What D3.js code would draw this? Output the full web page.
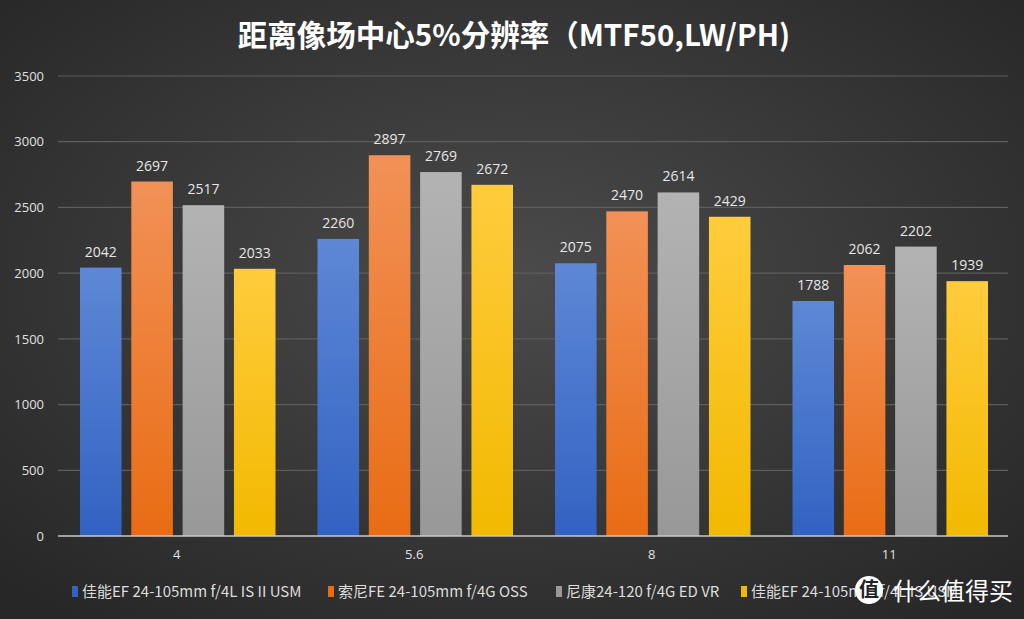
<!DOCTYPE html>
<html><head><meta charset="utf-8">
<script src="https://cdn.jsdelivr.net/npm/d3@7"></script>
<style>html,body{margin:0;padding:0;background:#333;}svg{display:block;}</style>
</head><body>
<svg id="c" width="1024" height="619"></svg>
<script>
const categories = ["4", "5.6", "8", "11"];
const seriesNames = ["佳能EF 24-105mm f/4L IS II USM", "索尼FE 24-105mm f/4G OSS", "尼康24-120 f/4G ED VR", "佳能EF 24-105mm f/4L IS USM"];
const canonII = [2042, 2260, 2075, 1788];
const sony = [2697, 2897, 2470, 2062];
const nikon = [2517, 2769, 2614, 2202];
const canonI = [2033, 2672, 2429, 1939];
const yTicks = [0, 500, 1000, 1500, 2000, 2500, 3000, 3500];
const title = "距离像场中心5%分辨率（MTF50,LW/PH)";
const seriesValues = [canonII, sony, nikon, canonI];
const colorsTop = ["#5e88d6", "#f29157", "#b3b3b3", "#ffcc3d"];
const colorsBot = ["#3262c2", "#e96c14", "#989898", "#f2b900"];

const svg = d3.select("#c");
const W = 1024, H = 619;
const defs = svg.append("defs");
const bg = defs.append("radialGradient").attr("id","bg").attr("cx","50%").attr("cy","45%").attr("r","70%");
bg.append("stop").attr("offset","0%").attr("stop-color","#4b4b4b");
bg.append("stop").attr("offset","100%").attr("stop-color","#272727");
svg.append("rect").attr("width",W).attr("height",H).attr("fill","url(#bg)");
colorsTop.forEach((c,i)=>{
  const g = defs.append("linearGradient").attr("id","g"+i).attr("x1",0).attr("y1",0).attr("x2",0).attr("y2",1);
  g.append("stop").attr("offset","0%").attr("stop-color",c);
  g.append("stop").attr("offset","100%").attr("stop-color",colorsBot[i]);
});

const pLeft = 58, pRight = 1008, pTop = 76, pBottom = 536;
const y = d3.scaleLinear().domain([0,3500]).range([pBottom, pTop]);
const x0 = d3.scaleBand().domain(categories).range([pLeft, pRight]).paddingInner(0).paddingOuter(0);
const x1 = d3.scaleBand().domain(d3.range(4)).range([22, x0.bandwidth()-20]).paddingInner(0.19).paddingOuter(0);

const font = "'Open Sans','Noto Sans CJK SC',sans-serif";

// gridlines
svg.append("g").selectAll("line").data(yTicks.filter(d=>d>0)).join("line")
  .attr("x1",pLeft).attr("x2",pRight).attr("y1",d=>y(d)).attr("y2",d=>y(d))
  .attr("stroke","#5d5d5d").attr("stroke-width",1.2);

// y axis labels
const yAxis = d3.axisLeft(y).tickValues(yTicks).tickSize(0).tickPadding(0).tickFormat(d3.format("d"));
const ya = svg.append("g").attr("transform",`translate(${44},0)`).call(yAxis);
ya.select(".domain").remove();
ya.selectAll("text").attr("fill","#e0e0e0").style("font-family",font).style("font-size","13px");

// bars
const groups = svg.append("g").selectAll("g").data(categories).join("g")
  .attr("transform",d=>`translate(${x0(d)},0)`);
groups.each(function(cat, ci){
  const g = d3.select(this);
  seriesValues.forEach((vals, si)=>{
    const v = vals[ci];
    g.append("rect").attr("x",x1(si)).attr("width",x1.bandwidth())
      .attr("y",y(v)).attr("height",y(0)-y(v)).attr("fill",`url(#g${si})`);
    g.append("text").attr("x",x1(si)+x1.bandwidth()/2).attr("y",y(v)-11)
      .attr("text-anchor","middle").attr("fill","#e6e6e6")
      .style("font-family",font).style("font-size","14px").text(v);
  });
});

// zero line
svg.append("line").attr("x1",pLeft).attr("x2",pRight).attr("y1",y(0)).attr("y2",y(0))
  .attr("stroke","#c8c8c8").attr("stroke-width",1.5);

// x axis labels
const xAxis = d3.axisBottom(x0).tickSize(0).tickPadding(14);
const xa = svg.append("g").attr("transform",`translate(0,${pBottom})`).call(xAxis);
xa.select(".domain").remove();
xa.selectAll("text").attr("fill","#e0e0e0").style("font-family",font).style("font-size","13px");

// title
svg.append("text").attr("x",514).attr("y",46).attr("text-anchor","middle")
  .attr("fill","#ffffff").style("font-family","'Noto Sans CJK SC',sans-serif")
  .style("font-size","29.5px").style("font-weight","bold").text(title);

// legend
const legX = [72, 328, 556, 741];
const leg = svg.append("g");
seriesNames.forEach((n,i)=>{
  leg.append("rect").attr("x",legX[i]).attr("y",586).attr("width",6).attr("height",11).attr("fill",colorsBot[i]);
  leg.append("text").attr("x",legX[i]+10).attr("y",597).attr("fill","#dcdcdc")
    .style("font-family","'Noto Sans CJK SC',sans-serif").style("font-size","15px").text(n);
});

// watermark
const wm = svg.append("g");
wm.append("circle").attr("cx",869).attr("cy",590).attr("r",14).attr("fill","#ffffff");
wm.append("text").attr("x",869).attr("y",597).attr("text-anchor","middle").attr("fill","#222")
  .style("font-family","'Noto Sans CJK SC',sans-serif").style("font-size","20px").style("font-weight","bold").text("值");
wm.append("text").attr("x",893).attr("y",600).attr("fill","#ffffff")
  .style("font-family","'Noto Sans CJK SC',sans-serif").style("font-size","24px").text("什么值得买");
</script>
</body></html>
